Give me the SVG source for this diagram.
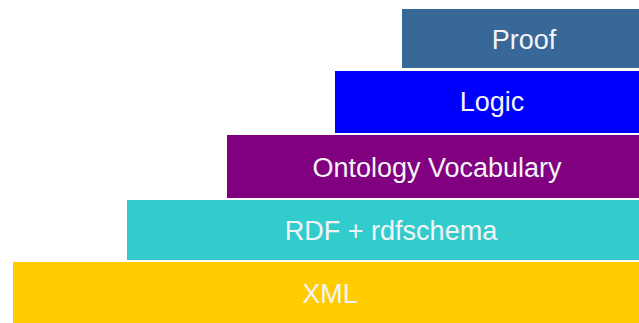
<svg xmlns="http://www.w3.org/2000/svg" width="639" height="323" viewBox="0 0 639 323">
<style>
.layer{stroke:none}
.lbl{font-family:"Liberation Sans",Arial,sans-serif;font-size:27px;fill:#F4F4F8;text-anchor:middle}
</style>
<rect x="0" y="0" width="639" height="323" fill="#FFFFFF"/>
<g id="xml">
<rect class="layer" x="13" y="262" width="626" height="61" fill="#FFCC00"/>
<text class="lbl" x="330" y="303">XML</text>
</g>
<g id="rdf">
<rect class="layer" x="127" y="200" width="512" height="60" fill="#33CCCC"/>
<text class="lbl" x="391" y="240">RDF + rdfschema</text>
</g>
<g id="ontology">
<rect class="layer" x="227" y="135" width="412" height="63" fill="#800080"/>
<text class="lbl" x="437" y="177">Ontology Vocabulary</text>
</g>
<g id="logic">
<rect class="layer" x="335" y="71" width="304" height="62" fill="#0000FF"/>
<text class="lbl" x="492" y="111">Logic</text>
</g>
<g id="proof">
<rect class="layer" x="402" y="9" width="237" height="59" fill="#376897"/>
<text class="lbl" x="524" y="49">Proof</text>
</g>
<g id="connectors"/>
</svg>
